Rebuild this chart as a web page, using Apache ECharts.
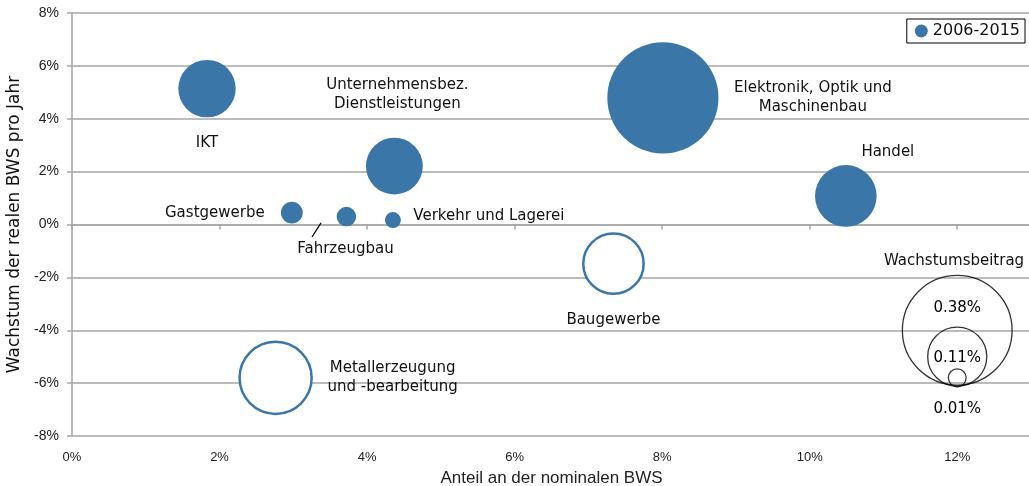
<!DOCTYPE html>
<html>
<head>
<meta charset="utf-8">
<script src="https://cdn.jsdelivr.net/npm/echarts@6/dist/echarts.min.js"></script>
<style>html,body{margin:0;padding:0;background:#fff}#c{width:1029px;height:486px}</style>
</head>
<body>
<div id="c"></div>
<script>
// ---- data ----
const categories = ['IKT', 'Unternehmensbez.\nDienstleistungen', 'Elektronik, Optik und\nMaschinenbau', 'Handel',
  'Gastgewerbe', 'Fahrzeugbau', 'Verkehr und Lagerei', 'Baugewerbe', 'Metallerzeugung\nund -bearbeitung'];
const share = [1.83, 4.37, 8.01, 10.49, 2.98, 3.72, 4.35, 7.34, 2.76];        // Anteil an der nominalen BWS (%)
const growth = [5.14, 2.21, 4.79, 1.08, 0.45, 0.30, 0.17, -1.48, -5.80];     // Wachstum der realen BWS p.a. (%)
const contribution = [0.104, 0.102, 0.39, 0.12, 0.015, 0.012, 0.008, -0.115, -0.164]; // Wachstumsbeitrag (%)
const seriesName = '2006-2015';

const sizeLegendTitle = 'Wachstumsbeitrag';
const sizeLegendX = [12, 12, 12];
const sizeLegendY = [-4, -5, -5.8];
const sizeLegendValues = [0.38, 0.11, 0.01];
const sizeLegendLabels = ['0.38%', '0.11%', '0.01%'];

const leaderLine = [[3.376, 0.06], [3.254, -0.47]]; // Fahrzeugbau label connector

const xTicks = {min: 0, max: 13, interval: 2};
const yTicks = {min: -8, max: 8, interval: 2};
const xAxisName = 'Anteil an der nominalen BWS';
const yAxisName = 'Wachstum der realen BWS pro Jahr';

// ---- styling ----
const BLUE = '#3a76a8';
const GRID = '#a6a6a6';
const K = 178; // diameter per sqrt(%)
const sizeOf = v => K * Math.sqrt(Math.abs(v));
const labelFont = {fontFamily: 'DejaVu Sans', fontSize: 15, color: '#111', lineHeight: 19, textBorderWidth: 0};
const labelOffsets = [[0, 54], [3, -71], [150, 0], [42, -44], [-77, 1], [-1, 33], [96, -4], [0, 56], [117, 0]];
const sizeLabelOffsets = [[0, -22], [0, 1], [0, 31]];

const mainData = categories.map((name, i) => {
  const neg = contribution[i] < 0;
  return {
    name: name,
    value: [share[i], growth[i], contribution[i]],
    symbolSize: sizeOf(contribution[i]),
    itemStyle: neg ? {color: '#fff', borderColor: BLUE, borderWidth: 2.5} : {color: BLUE},
    label: Object.assign({show: true, position: 'inside', offset: labelOffsets[i], formatter: '{b}', align: 'center'}, labelFont)
  };
});

const legendData = sizeLegendValues.map((v, i) => ({
  value: [sizeLegendX[i], sizeLegendY[i], v],
  symbolSize: sizeOf(v),
  label: Object.assign({show: true, position: 'inside', offset: sizeLabelOffsets[i], formatter: sizeLegendLabels[i]}, labelFont, {color: '#000', opacity: 1})
}));

const chart = echarts.init(document.getElementById('c'), null, {renderer: 'canvas'});
chart.setOption({
  animation: false,
  grid: {left: 72, right: -2, top: 13, bottom: 50, containLabel: false, outerBoundsMode: 'none'},
  legend: {
    data: [seriesName], right: 4, top: 19, icon: 'circle', itemWidth: 13, itemHeight: 13, itemGap: 4,
    borderColor: '#000', borderWidth: 1, borderRadius: 0, padding: [4, 5, 4, 8],
    textStyle: {fontFamily: 'DejaVu Sans', fontSize: 16, color: '#111'}
  },
  graphic: [{
    type: 'text', left: 884, top: 254,
    style: {text: sizeLegendTitle, font: '15px "DejaVu Sans"', fill: '#111'}
  }],
  xAxis: [{
    type: 'value', min: xTicks.min, max: xTicks.max, interval: xTicks.interval, position: 'bottom',
    axisLine: {show: false, onZero: false}, axisTick: {show: false}, splitLine: {show: false},
    axisLabel: {formatter: v => v + '%', showMaxLabel: false, margin: 15, fontFamily: 'Liberation Sans', fontSize: 13, color: '#222'},
    name: xAxisName, nameLocation: 'middle', nameGap: 34,
    nameTextStyle: {fontFamily: 'Liberation Sans', fontSize: 17, color: '#222'}
  }, {
    type: 'value', min: xTicks.min, max: xTicks.max, interval: xTicks.interval, position: 'bottom',
    axisLine: {show: true, onZero: true, onZeroAxisIndex: 0, lineStyle: {color: GRID, width: 1.5}},
    axisTick: {show: true, length: 5, lineStyle: {color: GRID, width: 1.5}},
    axisLabel: {show: false}, splitLine: {show: false}
  }],
  yAxis: {
    type: 'value', min: yTicks.min, max: yTicks.max, interval: yTicks.interval,
    axisLine: {show: true, lineStyle: {color: GRID, width: 1.5}},
    axisTick: {show: true, length: 5, lineStyle: {color: GRID, width: 1.5}},
    splitLine: {show: true, lineStyle: {color: GRID, width: 1.5}},
    axisLabel: {formatter: v => v + '%', margin: 13, fontFamily: 'Liberation Sans', fontSize: 14, color: '#222'},
    name: yAxisName, nameLocation: 'middle', nameGap: 45, nameRotate: 90,
    nameTextStyle: {fontFamily: 'DejaVu Sans', fontSize: 17, color: '#111'}
  },
  series: [{
    name: seriesName, type: 'scatter', xAxisIndex: 0, data: mainData,
    itemStyle: {color: BLUE, opacity: 1}, emphasis: {disabled: true}, z: 3,
    markLine: {
      silent: true, symbol: 'none', label: {show: false},
      lineStyle: {color: '#000', width: 1.2, type: 'solid'},
      data: [[{coord: leaderLine[0]}, {coord: leaderLine[1]}]]
    }
  }, {
    name: 'Wachstumsbeitrag', type: 'scatter', xAxisIndex: 0, data: legendData,
    itemStyle: {color: 'rgba(0,0,0,0)', borderColor: '#000', borderWidth: 1.3},
    emphasis: {disabled: true}, z: 4, silent: true
  }]
});
</script>
</body>
</html>
